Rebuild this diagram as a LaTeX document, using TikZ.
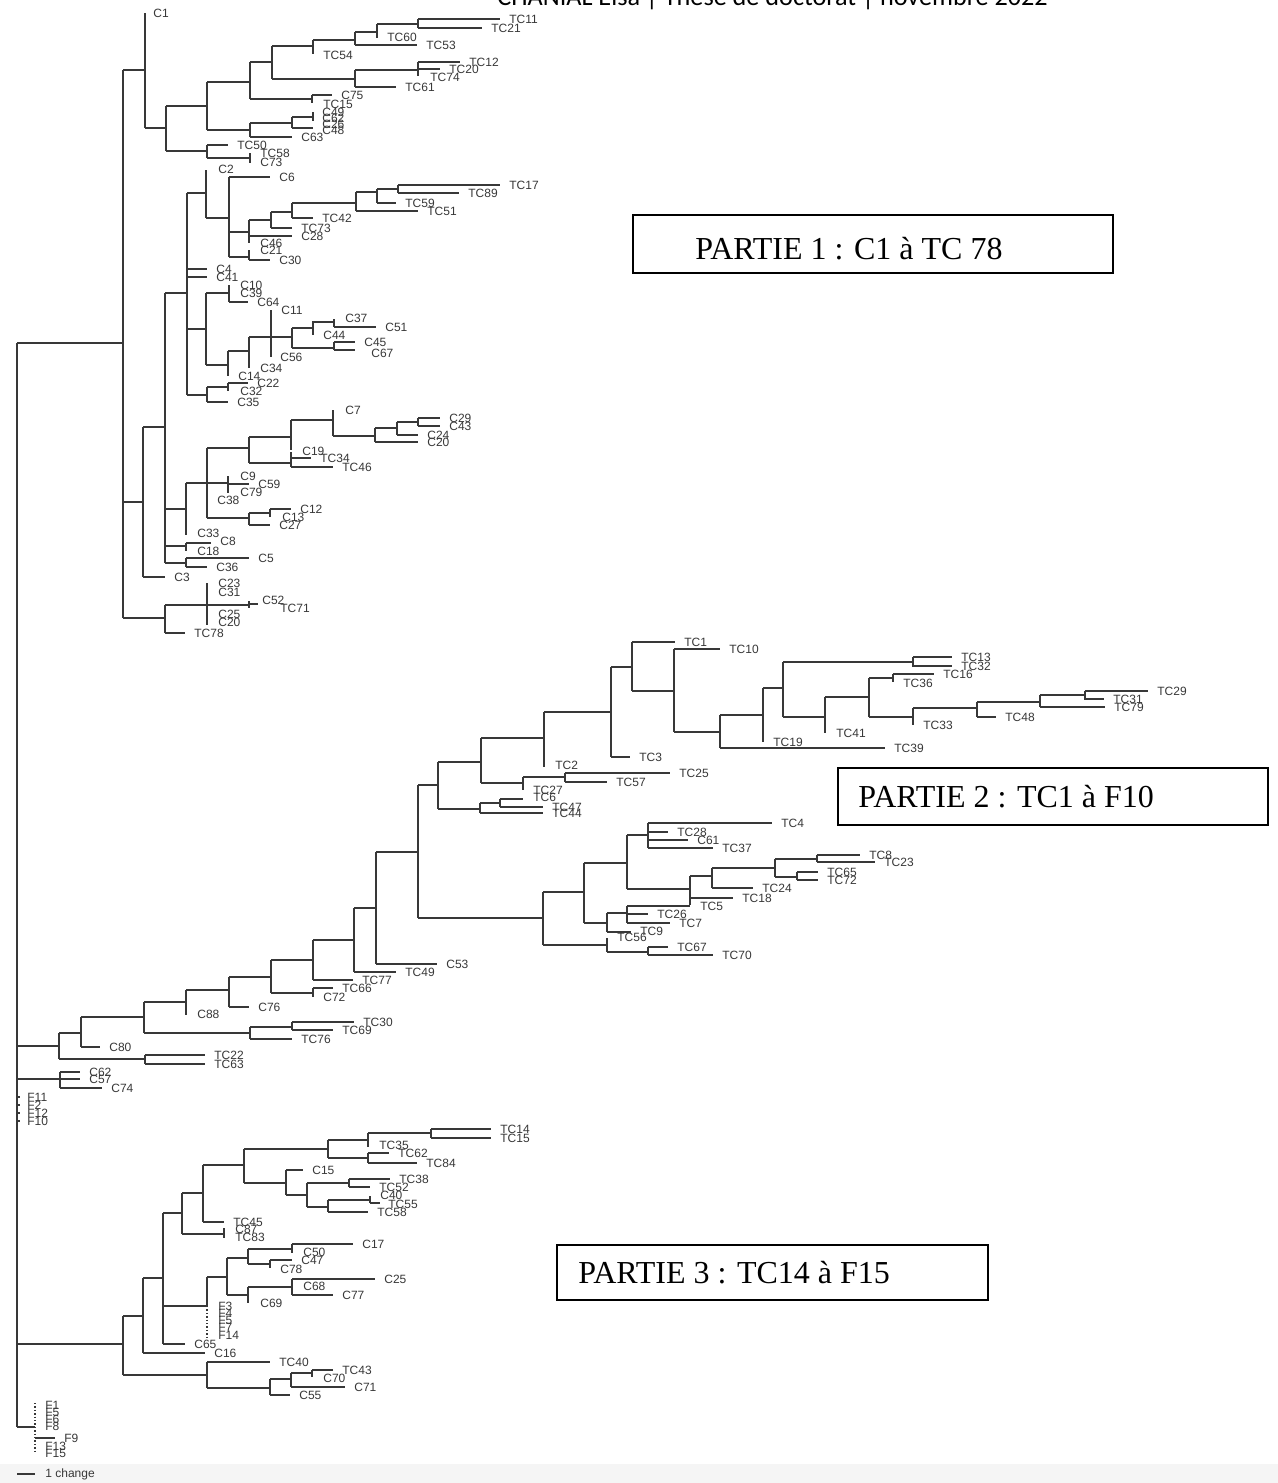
\documentclass[tikz,border=0pt]{standalone}
\usepackage{fontspec}
\setmainfont{Liberation Serif}
\newfontfamily\lblfont{Liberation Sans}
\newfontfamily\hdrfont{Carlito}
\tikzset{
  br/.style={line width=0.7pt, draw=black!78},
  lbl/.style={font=\lblfont\fontsize{6}{6}\selectfont, anchor=west, inner sep=0pt, text=black!78},
  partbox/.style={draw=black, line width=0.55pt},
  parttxt/.style={font=\fontsize{16}{17}\selectfont, anchor=base west, inner sep=0pt},
}
\newcommand{\hbr}[3]{\draw[br] (#1,#3) -- (#2,#3);}
\newcommand{\vbr}[3]{\draw[br] (#1,#2) -- (#1,#3);}
\newcommand{\lab}[3]{\node[lbl] (n-#3) at (#1,#2) {#3};}
\newcommand{\tipx}[4]{\draw[br] (#1,#3) -- (#2,#3); \node[lbl, xshift=4.5pt] (n-#4) at (#2,#3) {#4};}
\begin{document}
\begin{tikzpicture}[x=0.5pt,y=-0.5pt]
\useasboundingbox (0,0) rectangle (1278,1483);
\fill[white] (0,0) rectangle (1278,1483);
\fill[black!4] (0,1464) rectangle (1278,1483);
% header (cut off at the top)
\node[anchor=base west, inner sep=0pt, font=\hdrfont\fontsize{13.1}{14}\selectfont] (hdr) at (497,5) {CHANIAL Elsa | Thèse de doctorat | novembre 2022};

% ---------------- root ----------------
\vbr{17}{343}{1427}
\draw[br, line width=1.3pt] (17,843) -- (17,1340);
\hbr{17}{123}{343}
\hbr{17}{59}{1046}
\hbr{17}{60}{1079}
\hbr{17}{123}{1344}
\hbr{17}{35}{1427}
\foreach \yy in {1097,1105,1113,1121} {\hbr{17}{20}{\yy}}
\lab{27}{1097}{F11}
\lab{27}{1105}{F2}
\lab{27}{1113}{F12}
\lab{27}{1121}{F10}

% ---------------- PART 1 ----------------
\vbr{123}{70}{618}
\hbr{123}{145}{70}
\vbr{145}{13}{128} \lab{153}{13}{C1}
\hbr{145}{166}{128}
\vbr{166}{106}{151}
\hbr{166}{207}{106}
\vbr{207}{82}{130}
\hbr{207}{250}{82}
\vbr{250}{62}{99}
\hbr{250}{272}{62}
\vbr{272}{46}{79}
\hbr{272}{313}{46}
\vbr{313}{40}{54} \lab{323}{55}{TC54}
\hbr{313}{355}{40}
\vbr{355}{32}{45}
\hbr{355}{377}{32}
\vbr{377}{24}{38} \lab{387}{37}{TC60}
\hbr{377}{418}{24}
\vbr{418}{19}{28}
\tipx{418}{500}{19}{TC11}
\tipx{418}{482}{28}{TC21}
\tipx{355}{417}{45}{TC53}
\hbr{272}{355}{79}
\vbr{355}{70}{87}
\hbr{355}{418}{70}
\vbr{418}{62}{76}
\tipx{418}{460}{62}{TC12}
\tipx{418}{440}{69}{TC20}
\lab{430}{77}{TC74}
\tipx{355}{396}{87}{TC61}
\hbr{250}{312}{99}
\vbr{312}{95}{103}
\tipx{312}{332}{95}{C75}
\lab{323}{104}{TC15}
\hbr{207}{250}{130}
\vbr{250}{123}{137}
\hbr{250}{292}{123}
\vbr{292}{117}{128}
\hbr{292}{313}{117}
\vbr{313}{112}{121}
\hbr{292}{313}{128}
\lab{322}{112}{C49}
\lab{322}{118}{C62}
\lab{322}{124}{C26}
\lab{322}{130}{C48}
\tipx{250}{292}{137}{C63}
\hbr{166}{207}{151}
\vbr{207}{145}{158}
\tipx{207}{228}{145}{TC50}
\hbr{207}{250}{158}
\vbr{250}{153}{163}
\lab{260}{153}{TC58}
\lab{260}{162}{C73}

\hbr{123}{143}{502}
\vbr{143}{427}{577}
\hbr{143}{165}{427}
\tipx{143}{165}{577}{C3}
\vbr{165}{293}{563}
\hbr{165}{187}{293}
\vbr{187}{193}{395}
\hbr{187}{206}{193}
\vbr{206}{170}{218} \lab{218}{169}{C2}
\hbr{206}{229}{218}
\vbr{229}{177}{257}
\tipx{229}{270}{177}{C6}
\hbr{229}{249}{232}
\vbr{249}{220}{243}
\hbr{249}{271}{220}
\vbr{271}{212}{228}
\hbr{271}{292}{212}
\vbr{292}{203}{218}
\tipx{292}{313}{218}{TC42}
\hbr{292}{356}{203}
\vbr{356}{192}{211}
\hbr{356}{377}{192}
\vbr{377}{189}{203}
\hbr{377}{398}{189}
\vbr{398}{185}{193}
\tipx{398}{500}{185}{TC17}
\tipx{398}{459}{193}{TC89}
\tipx{377}{396}{203}{TC59}
\tipx{356}{418}{211}{TC51}
\tipx{271}{292}{228}{TC73}
\tipx{249}{292}{236}{C28}
\lab{260}{243}{C46}
\hbr{229}{249}{257}
\vbr{249}{250}{260}
\lab{260}{250}{C21}
\tipx{249}{270}{260}{C30}
\tipx{187}{207}{269}{C4}
\tipx{187}{207}{277}{C41}
\hbr{187}{206}{329}
\vbr{206}{293}{365}
\hbr{206}{229}{293}
\vbr{229}{285}{302}
\lab{240}{285}{C10}
\lab{240}{293}{C39}
\tipx{229}{248}{302}{C64}
\hbr{206}{228}{365}
\vbr{228}{351}{376} \lab{238}{376}{C14}
\hbr{228}{249}{351}
\vbr{249}{337}{368} \lab{260}{368}{C34}
\hbr{249}{271}{337}
\vbr{271}{310}{357}
\lab{281}{310}{C11}
\lab{280}{357}{C56}
\hbr{271}{292}{337}
\vbr{292}{328}{348}
\hbr{292}{313}{328}
\vbr{313}{321}{335} \lab{323}{335}{C44}
\hbr{313}{334}{322}
\vbr{334}{319}{327}
\lab{345}{318}{C37}
\tipx{334}{376}{327}{C51}
\hbr{292}{334}{348}
\vbr{334}{342}{350}
\tipx{334}{355}{342}{C45}
\draw[br] (334,350) -- (355,350);
\lab{371}{353}{C67}
\hbr{187}{207}{395}
\vbr{207}{387}{402}
\hbr{207}{228}{387}
\vbr{228}{383}{391}
\tipx{228}{248}{383}{C22}
\lab{240}{391}{C32}
\tipx{207}{228}{402}{C35}

\hbr{165}{186}{509}
\vbr{186}{483}{535} \lab{197}{533}{C33}
\hbr{186}{207}{483}
\vbr{207}{448}{518}
\hbr{207}{249}{448}
\vbr{249}{437}{463}
\hbr{249}{291}{437}
\vbr{291}{420}{450}
\hbr{291}{333}{420}
\vbr{333}{410}{436} \lab{345}{410}{C7}
\hbr{333}{375}{436}
\vbr{375}{428}{442}
\hbr{375}{397}{428}
\vbr{397}{422}{435}
\hbr{397}{418}{422}
\vbr{418}{418}{426}
\tipx{418}{440}{418}{C29}
\tipx{418}{440}{426}{C43}
\tipx{397}{418}{435}{C24}
\tipx{375}{418}{442}{C20}
\hbr{249}{291}{463}
\vbr{291}{452}{467}
\lab{302}{451}{C19}
\tipx{291}{311}{458}{TC34}
\tipx{291}{333}{467}{TC46}
\hbr{207}{228}{483}
\vbr{228}{476}{493}
\lab{240}{476}{C9}
\tipx{228}{249}{484}{C59}
\lab{240}{492}{C79}
\lab{217}{500}{C38}
\hbr{207}{249}{518}
\vbr{249}{513}{525}
\hbr{249}{270}{513}
\vbr{270}{509}{517}
\tipx{270}{291}{509}{C12}
\lab{282}{517}{C13}
\tipx{249}{270}{525}{C27}
\hbr{165}{186}{546}
\vbr{186}{543}{551}
\draw[br] (186,543) -- (211,543);
\lab{220}{541}{C8}
\lab{197}{551}{C18}
\hbr{165}{186}{563}
\vbr{186}{558}{567}
\tipx{186}{249}{558}{C5}
\tipx{186}{207}{567}{C36}

\hbr{123}{165}{618}
\vbr{165}{605}{633}
\hbr{165}{207}{605}
\vbr{207}{583}{625}
\lab{218}{583}{C23}
\lab{218}{592}{C31}
\lab{218}{614}{C25}
\lab{218}{622}{C20}
\hbr{207}{249}{605}
\vbr{249}{601}{608}
\hbr{249}{258}{604}
\lab{262}{600}{C52}
\lab{280}{608}{TC71}
\tipx{165}{185}{633}{TC78}

% ---------------- PART 2 ----------------
\vbr{59}{1033}{1059}
\hbr{59}{145}{1059}
\vbr{145}{1055}{1064}
\tipx{145}{205}{1055}{TC22}
\tipx{145}{205}{1064}{TC63}
\hbr{59}{81}{1033}
\vbr{81}{1017}{1047}
\tipx{81}{100}{1047}{C80}
\hbr{81}{144}{1017}
\vbr{144}{1002}{1033}
\hbr{144}{250}{1033}
\vbr{250}{1027}{1039}
\hbr{250}{292}{1027}
\vbr{292}{1022}{1030}
\tipx{292}{354}{1022}{TC30}
\tipx{292}{333}{1030}{TC69}
\tipx{250}{292}{1039}{TC76}
\hbr{144}{186}{1002}
\vbr{186}{990}{1015} \lab{197}{1014}{C88}
\hbr{186}{229}{990}
\vbr{229}{977}{1007}
\tipx{229}{249}{1007}{C76}
\hbr{229}{271}{977}
\vbr{271}{960}{993}
\hbr{271}{313}{993}
\vbr{313}{988}{997}
\tipx{313}{333}{988}{TC66}
\lab{323}{997}{C72}
\hbr{271}{313}{960}
\vbr{313}{940}{980}
\tipx{313}{353}{980}{TC77}
\hbr{313}{354}{940}
\vbr{354}{908}{972}
\tipx{354}{396}{972}{TC49}
\hbr{354}{376}{908}
\vbr{376}{852}{964}
\tipx{376}{437}{964}{C53}
\hbr{376}{418}{852}
\vbr{418}{785}{918}
\hbr{418}{438}{785}
\vbr{438}{762}{809}
\hbr{438}{481}{762}
\vbr{481}{738}{783}
\hbr{481}{544}{738}
\vbr{544}{712}{767} \lab{555}{765}{TC2}
\hbr{544}{611}{712}
\vbr{611}{667}{757}
\tipx{611}{630}{757}{TC3}
\hbr{611}{632}{667}
\vbr{632}{642}{691}
\tipx{632}{675}{642}{TC1}
\hbr{632}{674}{691}
\vbr{674}{649}{732}
\tipx{674}{720}{649}{TC10}
\hbr{674}{720}{732}
\vbr{720}{715}{748}
\tipx{720}{885}{748}{TC39}
\hbr{720}{763}{715}
\vbr{763}{688}{742} \lab{773}{742}{TC19}
\hbr{763}{783}{688}
\vbr{783}{662}{717}
\hbr{783}{913}{662}
\vbr{913}{657}{667}
\tipx{913}{952}{657}{TC13}
\tipx{913}{952}{666}{TC32}
\hbr{783}{825}{717}
\vbr{825}{697}{733} \lab{836}{733}{TC41}
\hbr{825}{869}{697}
\vbr{869}{678}{717}
\hbr{869}{893}{678}
\vbr{893}{674}{682}
\tipx{893}{934}{674}{TC16}
\lab{903}{683}{TC36}
\hbr{869}{913}{717}
\vbr{913}{708}{725} \lab{923}{725}{TC33}
\hbr{913}{977}{708}
\vbr{977}{702}{717}
\tipx{977}{996}{717}{TC48}
\hbr{977}{1040}{702}
\vbr{1040}{695}{707}
\hbr{1040}{1085}{695}
\vbr{1085}{691}{700}
\tipx{1085}{1148}{691}{TC29}
\tipx{1085}{1104}{699}{TC31}
\tipx{1040}{1105}{707}{TC79}
% TC25 group
\hbr{481}{523}{783}
\vbr{523}{777}{790} \lab{533}{790}{TC27}
\hbr{523}{565}{777}
\vbr{565}{773}{782}
\tipx{565}{670}{773}{TC25}
\tipx{565}{607}{782}{TC57}
\hbr{438}{480}{809}
\vbr{480}{803}{813}
\hbr{480}{500}{803}
\vbr{500}{799}{807}
\draw[br] (500,799) -- (523,799);
\lab{533}{797}{TC6}
\tipx{500}{543}{807}{TC47}
\tipx{480}{543}{813}{TC44}
% lower clade of part 2
\hbr{418}{543}{918}
\vbr{543}{892}{945}
\hbr{543}{584}{892}
\vbr{584}{863}{923}
\hbr{584}{627}{863}
\vbr{627}{835}{889}
\hbr{627}{648}{835}
\vbr{648}{823}{848}
\tipx{648}{772}{823}{TC4}
\tipx{648}{668}{832}{TC28}
\tipx{648}{688}{840}{C61}
\tipx{648}{713}{848}{TC37}
\hbr{627}{690}{889}
\vbr{690}{876}{905}
\hbr{690}{712}{876}
\vbr{712}{868}{888}
\tipx{712}{753}{888}{TC24}
\hbr{712}{775}{868}
\vbr{775}{859}{877}
\hbr{775}{817}{859}
\vbr{817}{855}{862}
\tipx{817}{860}{855}{TC8}
\tipx{817}{875}{862}{TC23}
\hbr{775}{797}{877}
\vbr{797}{872}{880}
\tipx{797}{818}{872}{TC65}
\tipx{797}{818}{880}{TC72}
\tipx{690}{733}{898}{TC18}
\lab{700}{906}{TC5}
\hbr{584}{607}{923}
\vbr{607}{913}{932}
\hbr{607}{627}{913}
\vbr{627}{906}{923}
\hbr{627}{690}{906}
\tipx{627}{648}{914}{TC26}
\tipx{627}{670}{923}{TC7}
\draw[br] (607,932) -- (631,932);
\lab{640}{931}{TC9}
\hbr{543}{607}{945}
\vbr{607}{938}{952} \lab{617}{937}{TC56}
\hbr{607}{648}{952}
\vbr{648}{947}{955}
\tipx{648}{668}{947}{TC67}
\tipx{648}{713}{955}{TC70}
% C62 group
\vbr{60}{1072}{1088}
\tipx{60}{80}{1072}{C62}
\tipx{60}{80}{1079}{C57}
\tipx{60}{102}{1088}{C74}

% ---------------- PART 3 ----------------
\vbr{123}{1316}{1375}
\hbr{123}{207}{1375}
\vbr{207}{1362}{1388}
\tipx{207}{270}{1362}{TC40}
\hbr{207}{270}{1388}
\vbr{270}{1379}{1395}
\hbr{270}{291}{1379}
\vbr{291}{1373}{1387}
\hbr{291}{312}{1373}
\vbr{312}{1370}{1377}
\tipx{312}{333}{1370}{TC43}
\lab{323}{1378}{C70}
\tipx{291}{345}{1387}{C71}
\tipx{270}{290}{1395}{C55}
\hbr{123}{143}{1316}
\vbr{143}{1278}{1353}
\tipx{143}{205}{1353}{C16}
\hbr{143}{163}{1278}
\vbr{163}{1213}{1344}
\tipx{163}{185}{1344}{C65}
\hbr{163}{207}{1306}
\vbr{207}{1277}{1306}
\draw[br, densely dotted, line width=0.9pt] (207,1306) -- (207,1338);
\lab{218}{1306}{F3}
\lab{218}{1313}{F4}
\lab{218}{1320}{F5}
\lab{218}{1327}{F7}
\lab{218}{1335}{F14}
\hbr{207}{227}{1277}
\vbr{227}{1258}{1295}
\hbr{227}{248}{1258}
\vbr{248}{1249}{1264}
\hbr{248}{292}{1249}
\vbr{292}{1244}{1253}
\tipx{292}{353}{1244}{C17}
\lab{303}{1252}{C50}
\hbr{248}{270}{1264}
\vbr{270}{1260}{1268}
\tipx{270}{292}{1260}{C47}
\lab{280}{1269}{C78}
\hbr{227}{248}{1295}
\vbr{248}{1287}{1303} \lab{260}{1303}{C69}
\hbr{248}{292}{1287}
\vbr{292}{1279}{1295}
\tipx{292}{375}{1279}{C25}
\lab{303}{1286}{C68}
\tipx{292}{333}{1295}{C77}
\hbr{163}{182}{1213}
\vbr{182}{1193}{1234}
\hbr{182}{203}{1193}
\vbr{203}{1165}{1222}
\tipx{203}{224}{1222}{TC45}
\hbr{182}{224}{1234}
\vbr{224}{1228}{1238}
\lab{235}{1229}{C87}
\lab{235}{1237}{TC83}
\hbr{203}{244}{1165}
\vbr{244}{1149}{1183}
\hbr{244}{328}{1149}
\vbr{328}{1140}{1158}
\hbr{328}{368}{1140}
\vbr{368}{1133}{1147} \lab{379}{1145}{TC35}
\hbr{368}{431}{1133}
\vbr{431}{1129}{1138}
\tipx{431}{491}{1129}{TC14}
\tipx{431}{491}{1138}{TC15}
\hbr{328}{368}{1158}
\vbr{368}{1153}{1163}
\tipx{368}{389}{1153}{TC62}
\tipx{368}{417}{1163}{TC84}
\hbr{244}{286}{1183}
\vbr{286}{1170}{1195}
\tipx{286}{303}{1170}{C15}
\hbr{286}{307}{1195}
\vbr{307}{1183}{1207}
\hbr{307}{349}{1183}
\vbr{349}{1179}{1187}
\tipx{349}{390}{1179}{TC38}
\tipx{349}{370}{1187}{TC52}
\hbr{307}{328}{1207}
\vbr{328}{1200}{1212}
\hbr{328}{370}{1200}
\vbr{370}{1196}{1203}
\lab{380}{1195}{C40}
\draw[br] (370,1203) -- (380,1203);
\lab{388}{1204}{TC55}
\tipx{328}{368}{1212}{TC58}

% bottom F cluster
\draw[br, densely dotted, line width=0.9pt] (35,1403) -- (35,1453);
\tipx{35}{55}{1438}{F9}
\lab{45}{1405}{F1}
\lab{45}{1412}{F5}
\lab{45}{1419}{F6}
\lab{45}{1426}{F8}
\lab{45}{1446}{F13}
\lab{45}{1453}{F15}

% scale bar
\draw[br] (17,1474) coordinate (sb1) -- (35,1474) coordinate (sb2);
\node[lbl] (scale) at (45,1474) {1 change};

% ---------------- part boxes ----------------
\draw[partbox] (633,215) rectangle (1113,273);
\node[parttxt] (p1) at (695,259) {PARTIE 1 : C1 à TC 78};
\draw[partbox] (838,768) rectangle (1268,825);
\node[parttxt] (p2) at (858,807) {PARTIE 2 : TC1 à F10};
\draw[partbox] (557,1245) rectangle (988,1300);
\node[parttxt] (p3) at (578,1283) {PARTIE 3 : TC14 à F15};
\end{tikzpicture}
\end{document}
